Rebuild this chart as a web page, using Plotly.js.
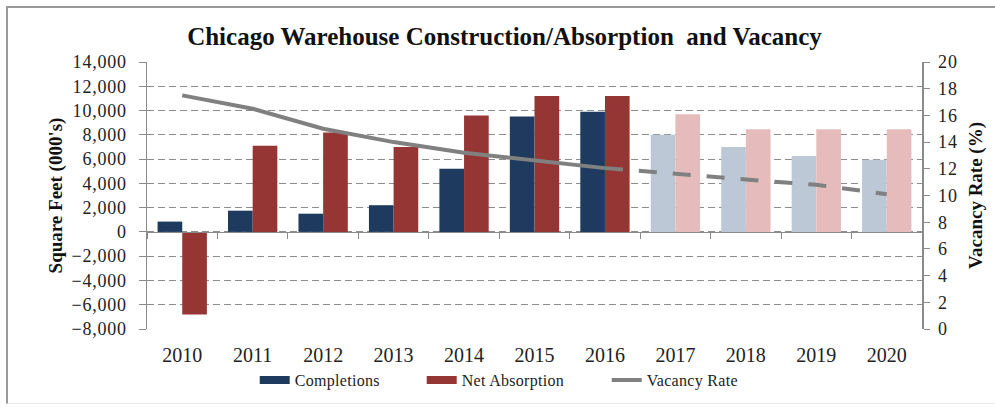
<!DOCTYPE html>
<html>
<head>
<meta charset="utf-8">
<script src="https://cdn.plot.ly/plotly-3.0.1.min.js"></script>
<style>
  html, body { margin: 0; padding: 0; background: #ffffff; }
  #wrap { position: relative; width: 995px; height: 408px; overflow: hidden; }
  #chart { width: 995px; height: 408px; }
  #frame { position: absolute; left: 6px; top: 6px; width: 1000px; height: 395px;
           border-left: 2px solid #9a9a9a; border-top: 2px solid #9a9a9a; border-bottom: 1px solid #e6e6e6;
           pointer-events: none; }
  .ytick text, .y2tick text { letter-spacing: 0.8px; }
  .legendtext { letter-spacing: 0.3px; }
</style>
</head>
<body>
<div id="wrap">
  <div id="chart"></div>
  <div id="frame"></div>
</div>
<script>
// ---- data ----
var years = ["2010","2011","2012","2013","2014","2015","2016","2017","2018","2019","2020"];
var completions   = [850, 1750, 1500, 2200, 5200, 9500, 9900, 8000, 7000, 6250, 5950];
var netAbsorption = [-6800, 7100, 8200, 7000, 9600, 11200, 11200, 9700, 8450, 8450, 8450];
var vacancyRate   = [17.5, 16.5, 15.0, 14.0, 13.2, 12.6, 12.05, 11.6, 11.2, 10.8, 10.1];
var firstForecastYear = "2017";
var lastActualYear = "2016";

// ---- styling ----
var serif = "'Liberation Serif', 'Times New Roman', serif";
var darkBlue = "#1F3A5F", lightBlue = "#BCC8D5";
var darkRed = "#953634", lightRed = "#E5BCBB";
var grey = "#808080";

var isForecast = years.map(function (y) { return y >= firstForecastYear; });
var compColors = isForecast.map(function (f) { return f ? lightBlue : darkBlue; });
var absColors = isForecast.map(function (f) { return f ? lightRed : darkRed; });

var splitIdx = years.indexOf(lastActualYear);
var actualYears = years.slice(0, splitIdx + 1);
var actualRate = vacancyRate.slice(0, splitIdx + 1);
var forecastYears = years.slice(splitIdx);
var forecastRate = vacancyRate.slice(splitIdx);

var traces = [
  { type: "bar", x: years, y: completions, name: "Completions", marker: { color: compColors },
    showlegend: false, xaxis: "x", yaxis: "y", hoverinfo: "x+y" },
  { type: "bar", x: years, y: netAbsorption, name: "Net Absorption", marker: { color: absColors },
    showlegend: false, xaxis: "x", yaxis: "y", hoverinfo: "x+y" },
  { type: "scatter", mode: "lines", x: actualYears, y: actualRate, name: "Vacancy Rate",
    line: { color: grey, width: 4 }, showlegend: false, xaxis: "x2", yaxis: "y2" },
  { type: "scatter", mode: "lines", x: forecastYears, y: forecastRate, name: "Vacancy Rate (forecast)",
    line: { color: grey, width: 4, dash: "18px,16px" }, showlegend: false, xaxis: "x2", yaxis: "y2" },
  // legend entries
  { type: "scatter", mode: "lines", x: [null], y: [null], name: "Completions", legendwidth: 122,
    line: { color: darkBlue, width: 8 }, xaxis: "x2", yaxis: "y2", hoverinfo: "skip" },
  { type: "scatter", mode: "lines", x: [null], y: [null], name: "Net Absorption", legendwidth: 140,
    line: { color: darkRed, width: 8 }, xaxis: "x2", yaxis: "y2", hoverinfo: "skip" },
  { type: "scatter", mode: "lines", x: [null], y: [null], name: "Vacancy Rate",
    line: { color: grey, width: 4 }, xaxis: "x2", yaxis: "y2", hoverinfo: "skip" }
];

var yMin = -8000, yMax = 14000;
var zeroPos = (0 - yMin) / (yMax - yMin);

var layout = {
  width: 995, height: 408,
  margin: { l: 147, r: 73, t: 62, b: 78 },
  paper_bgcolor: "#ffffff", plot_bgcolor: "#ffffff",
  font: { family: serif, color: "#222222" },
  title: { text: "<b>Chicago Warehouse Construction/Absorption  and Vacancy</b>",
           font: { family: serif, size: 25, color: "#111111" },
           x: 0.507, xanchor: "center", y: 0.912, yanchor: "middle" },
  barmode: "group", bargap: 0.3, bargroupgap: 0,
  showlegend: true,
  legend: { orientation: "h", x: 0.139, xanchor: "left", y: -0.187, yanchor: "middle",
            font: { family: serif, size: 16, color: "#222222" }, bgcolor: "rgba(0,0,0,0)",
            traceorder: "normal", itemwidth: 30 },
  xaxis: { type: "category", categoryarray: years, range: [-0.5, years.length - 0.5],
           showline: false, showgrid: false, zeroline: false,
           ticks: "outside", ticklen: 8, tickcolor: "rgba(0,0,0,0)",
           tickfont: { family: serif, size: 20, color: "#222222" } },
  xaxis2: { type: "category", categoryarray: years, range: [-0.5, years.length - 0.5],
            overlaying: "x", anchor: "free", position: zeroPos, side: "bottom",
            showline: true, linecolor: "#8a8a8a", linewidth: 1.5,
            ticks: "outside", tickson: "boundaries", ticklen: 6, tickcolor: "#8a8a8a",
            showticklabels: false, showgrid: false, zeroline: false },
  yaxis: { range: [yMin, yMax], dtick: 2000, tickformat: ",d",
           showline: true, linecolor: "#8a8a8a", linewidth: 1.5,
           showgrid: true, gridcolor: "#8c8c8c", griddash: "7px,4px", gridwidth: 1,
           zeroline: false, ticks: "outside", ticklen: 7, tickcolor: "#8a8a8a",
           ticklabelstandoff: 8,
           tickfont: { family: serif, size: 18, color: "#222222" },
           title: { text: "<b>Square Feet (000's)</b>", font: { family: serif, size: 19, color: "#111111" }, standoff: 4 } },
  yaxis2: { range: [0, 20], dtick: 2, overlaying: "y", side: "right", anchor: "x",
            showline: true, linecolor: "#8a8a8a", linewidth: 1.5,
            showgrid: false, zeroline: false, ticks: "outside", ticklen: 6, tickcolor: "#8a8a8a",
            ticklabelstandoff: 5,
            tickfont: { family: serif, size: 18, color: "#222222" },
            title: { text: "<b>Vacancy Rate (%)</b>", font: { family: serif, size: 19, color: "#111111" }, standoff: 12 } }
};

Plotly.newPlot("chart", traces, layout, { displayModeBar: false, staticPlot: true });
</script>
</body>
</html>
